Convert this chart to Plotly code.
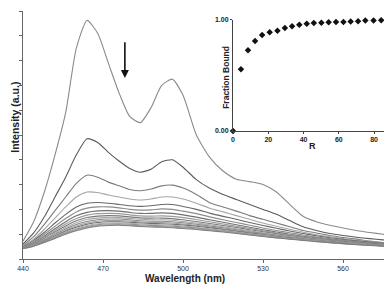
import plotly.graph_objects as go

wavelength = [440, 444, 448, 452, 456, 460, 464, 468, 472, 476, 480, 484, 488, 492, 496, 500,
              505, 510, 515, 520, 525, 530, 535, 540, 545, 550, 555, 560, 565, 570, 575, 580]

c1 = [0.72, 1.5, 2.7, 4.2, 5.9, 8.5, 9.62, 9.1, 7.9, 6.7, 5.75, 5.5, 6.1, 7.0, 7.25, 6.6,
      5.0, 4.1, 3.55, 3.22, 3.12, 3.0, 2.7, 2.2, 1.72, 1.5, 1.36, 1.25, 1.15, 1.07, 1.0, 0.93]
c2 = [0.6, 1.05, 1.7, 2.5, 3.3, 4.2, 4.85, 4.7, 4.3, 3.95, 3.65, 3.5, 3.62, 3.92, 4.0, 3.7,
      3.2, 2.85, 2.6, 2.4, 2.2, 2.0, 1.8, 1.55, 1.3, 1.15, 1.03, 0.95, 0.88, 0.82, 0.77, 0.72]
c3 = [0.55, 0.9, 1.4, 1.95, 2.5, 3.05, 3.38, 3.3, 3.1, 2.95, 2.8, 2.75, 2.82, 2.95, 2.98, 2.86,
      2.6, 2.27, 2.1, 1.93, 1.75, 1.6, 1.45, 1.3, 1.15, 1.05, 0.95, 0.87, 0.8, 0.72, 0.66, 0.61]
c4 = [0.52, 0.8, 1.2, 1.65, 2.1, 2.5, 2.7, 2.68, 2.58, 2.5, 2.42, 2.38, 2.42, 2.5, 2.5, 2.42,
      2.25, 2.05, 1.9, 1.75, 1.6, 1.45, 1.32, 1.2, 1.08, 0.98, 0.9, 0.82, 0.76, 0.7, 0.65, 0.6]
c5 = [0.5, 0.75, 1.08, 1.45, 1.8, 2.1, 2.25, 2.28, 2.25, 2.2, 2.15, 2.12, 2.15, 2.2, 2.2, 2.12,
      2.0, 1.85, 1.72, 1.6, 1.47, 1.35, 1.24, 1.13, 1.03, 0.94, 0.86, 0.79, 0.73, 0.68, 0.63, 0.58]
c6 = [0.48, 0.7, 1.0, 1.32, 1.63, 1.9, 2.05, 2.1, 2.1, 2.06, 2.0, 1.97, 1.98, 2.02, 2.0, 1.93,
      1.83, 1.7, 1.58, 1.47, 1.36, 1.25, 1.15, 1.06, 0.97, 0.89, 0.82, 0.76, 0.7, 0.65, 0.61, 0.57]
c7 = [0.47, 0.66, 0.93, 1.22, 1.5, 1.74, 1.88, 1.94, 1.95, 1.93, 1.88, 1.84, 1.84, 1.86, 1.84, 1.78,
      1.69, 1.58, 1.48, 1.38, 1.28, 1.18, 1.09, 1.0, 0.92, 0.85, 0.78, 0.72, 0.67, 0.63, 0.59, 0.55]
c8 = [0.46, 0.63, 0.88, 1.15, 1.41, 1.63, 1.77, 1.83, 1.84, 1.83, 1.78, 1.74, 1.73, 1.74, 1.72, 1.67,
      1.59, 1.5, 1.41, 1.32, 1.23, 1.14, 1.05, 0.97, 0.9, 0.83, 0.76, 0.71, 0.66, 0.62, 0.58, 0.54]
c9 = [0.46, 0.61, 0.84, 1.09, 1.33, 1.54, 1.67, 1.73, 1.75, 1.74, 1.7, 1.66, 1.65, 1.65, 1.63, 1.58,
      1.51, 1.43, 1.35, 1.27, 1.18, 1.1, 1.02, 0.94, 0.87, 0.8, 0.74, 0.69, 0.65, 0.61, 0.57, 0.53]
c10 = [0.45, 0.59, 0.8, 1.04, 1.27, 1.46, 1.59, 1.65, 1.68, 1.67, 1.64, 1.6, 1.58, 1.58, 1.56, 1.51,
       1.45, 1.38, 1.3, 1.22, 1.14, 1.06, 0.98, 0.91, 0.84, 0.78, 0.72, 0.67, 0.63, 0.59, 0.56, 0.52]
c11 = [0.45, 0.58, 0.77, 0.99, 1.21, 1.39, 1.51, 1.58, 1.61, 1.61, 1.58, 1.54, 1.52, 1.52, 1.5, 1.46,
       1.4, 1.33, 1.26, 1.18, 1.1, 1.03, 0.96, 0.89, 0.82, 0.76, 0.71, 0.66, 0.62, 0.58, 0.55, 0.52]
c12 = [0.44, 0.57, 0.75, 0.95, 1.16, 1.33, 1.45, 1.52, 1.55, 1.55, 1.53, 1.49, 1.47, 1.47, 1.45, 1.41,
       1.36, 1.29, 1.22, 1.15, 1.08, 1.0, 0.93, 0.87, 0.8, 0.75, 0.7, 0.65, 0.61, 0.57, 0.54, 0.51]
c13 = [0.44, 0.56, 0.73, 0.92, 1.12, 1.28, 1.4, 1.47, 1.5, 1.5, 1.48, 1.45, 1.43, 1.42, 1.4, 1.37,
       1.32, 1.26, 1.19, 1.12, 1.05, 0.98, 0.91, 0.85, 0.79, 0.74, 0.69, 0.64, 0.6, 0.57, 0.54, 0.51]
c14 = [0.43, 0.55, 0.71, 0.9, 1.08, 1.24, 1.35, 1.42, 1.45, 1.46, 1.44, 1.41, 1.39, 1.38, 1.36, 1.33,
       1.28, 1.22, 1.16, 1.09, 1.02, 0.96, 0.89, 0.83, 0.78, 0.73, 0.68, 0.63, 0.6, 0.56, 0.53, 0.5]
c15 = [0.43, 0.54, 0.7, 0.88, 1.05, 1.2, 1.31, 1.38, 1.41, 1.42, 1.4, 1.37, 1.35, 1.34, 1.32, 1.29,
       1.25, 1.19, 1.13, 1.07, 1.0, 0.94, 0.88, 0.82, 0.77, 0.72, 0.67, 0.63, 0.59, 0.56, 0.53, 0.5]
c16 = [0.42, 0.53, 0.68, 0.85, 1.02, 1.17, 1.28, 1.35, 1.38, 1.39, 1.37, 1.34, 1.32, 1.31, 1.29, 1.26,
       1.22, 1.17, 1.11, 1.05, 0.98, 0.92, 0.86, 0.81, 0.76, 0.71, 0.66, 0.62, 0.59, 0.55, 0.52, 0.49]
c17 = [0.42, 0.52, 0.67, 0.83, 1.0, 1.14, 1.25, 1.32, 1.35, 1.36, 1.34, 1.31, 1.29, 1.28, 1.26, 1.23,
       1.19, 1.14, 1.09, 1.03, 0.97, 0.91, 0.85, 0.8, 0.75, 0.7, 0.66, 0.62, 0.58, 0.55, 0.52, 0.49]

spectra = [c1, c2, c3, c4, c5, c6, c7, c8, c9, c10, c11, c12, c13, c14, c15, c16, c17]
colors = ["#8a8a8a", "#5c5c5c", "#7c7c7c", "#a6a6a6", "#686868", "#8c8c8c", "#707070",
          "#9a9a9a", "#7a7a7a", "#a8a8a8", "#888888", "#9e9e9e", "#6e6e6e", "#b0b0b0",
          "#8e8e8e", "#a0a0a0", "#7e7e7e"]

R = [0, 4.5, 8.5, 12.5, 16.5, 20.8, 25.2, 29.4, 33.5, 37.6, 41.8, 45.8, 50.1, 54.2,
     58.4, 62.6, 66.7, 70.9, 75.0, 79.7, 84.0]
fraction = [0.0, 0.555, 0.727, 0.81, 0.864, 0.89, 0.903, 0.927, 0.943, 0.957, 0.966,
            0.973, 0.975, 0.979, 0.982, 0.982, 0.985, 0.988, 0.994, 0.994, 0.997]

x_ticks = [440, 470, 500, 530, 560]
inset_x_ticks = [0, 20, 40, 60, 80]
inset_x_labels = ["<b>0</b>", "<b>20</b>", "<b>40</b>", "<b>60</b>", "<b>80</b>"]
inset_y_ticks = [0.0, 1.0]
inset_y_labels = ["<b>0.00</b>", "<b>1.00</b>"]

FONT = "Liberation Sans, Arial, sans-serif"
TXT = "#222222"

fig = go.Figure()
for ys, col in zip(spectra, colors):
    fig.add_trace(go.Scatter(x=wavelength, y=ys, mode="lines",
                             line=dict(color=col, width=1.1, shape="spline", smoothing=0.6),
                             showlegend=False, hoverinfo="skip"))

fig.add_trace(go.Scatter(x=R, y=fraction, mode="markers", xaxis="x2", yaxis="y2",
                         marker=dict(symbol="diamond", size=5, color="#111111"),
                         cliponaxis=False, showlegend=False))

fig.add_annotation(x=478.2, y=7.3, ax=478.2, ay=8.8, xref="x", yref="y",
                   axref="x", ayref="y", showarrow=True, arrowhead=2,
                   arrowsize=1, arrowwidth=1.6, arrowcolor="#111111", text="")

# axis titles as annotations for exact placement
fig.add_annotation(text="<b>Intensity (a.u.)</b>", textangle=-90, xref="paper", yref="paper",
                   x=-0.021, y=0.57, xanchor="center", yanchor="middle", showarrow=False,
                   font=dict(size=10.5, color=TXT))
fig.add_annotation(text="<b>Wavelength (nm)</b>", xref="paper", yref="paper",
                   x=0.432, y=-0.077, xanchor="center", yanchor="middle", showarrow=False,
                   font=dict(size=10, color=TXT))
fig.add_annotation(text="<b>Fraction Bound</b>", textangle=-90, xref="paper", yref="paper",
                   x=0.541, y=0.734, xanchor="center", yanchor="middle", showarrow=False,
                   font=dict(size=8.5, color=TXT))
fig.add_annotation(text="<b>R</b>", xref="paper", yref="paper",
                   x=0.771, y=0.456, xanchor="center", yanchor="middle", showarrow=False,
                   font=dict(size=9, color=TXT))

fig.update_layout(
    width=392, height=285,
    margin=dict(l=15, r=2, t=3, b=34),
    paper_bgcolor="white", plot_bgcolor="white",
    font=dict(family=FONT, color=TXT),
    xaxis=dict(range=[440, 580.6], tickvals=x_ticks, ticks="outside", ticklen=3,
               tickcolor="#666", showline=True, linecolor="#666", linewidth=1,
               showgrid=False, zeroline=False, tickfont=dict(size=7, color="#333333"),
               automargin=False),
    yaxis=dict(range=[0, 10], dtick=1, ticks="outside", ticklen=3, tickcolor="#666",
               showticklabels=False, showline=True, linecolor="#666", linewidth=1,
               showgrid=False, zeroline=False, automargin=False),
    xaxis2=dict(domain=[0.56, 0.981], anchor="y2", range=[0, 89.5],
                tickvals=inset_x_ticks, ticktext=inset_x_labels, ticks="outside", ticklen=2,
                tickcolor="#444", showline=True, linecolor="#444", linewidth=1, showgrid=False,
                zeroline=False, tickfont=dict(size=7, color=TXT), automargin=False),
    yaxis2=dict(domain=[0.516, 0.964], anchor="x2", range=[0, 1],
                tickvals=inset_y_ticks, ticktext=inset_y_labels, ticks="outside", ticklen=2,
                tickcolor="#444", showline=True, linecolor="#444", linewidth=1,
                showgrid=False, zeroline=False, tickfont=dict(size=7, color=TXT),
                automargin=False),
)

fig.write_html("out.html")
